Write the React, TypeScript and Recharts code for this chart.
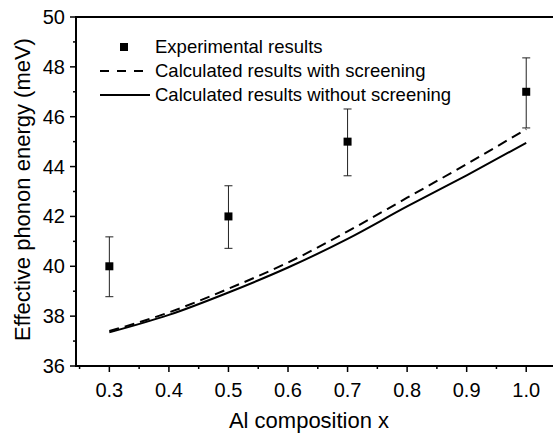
import React from 'react';
import { ComposedChart, Line, Scatter, ErrorBar, XAxis, YAxis, Legend, Label } from 'recharts';

// Al composition x for the calculated curves
const xCalc = [0.3, 0.4, 0.5, 0.6, 0.7, 0.8, 0.9, 1.0];
const withScreening = [37.4, 38.15, 39.1, 40.15, 41.4, 42.75, 44.1, 45.5];
const withoutScreening = [37.35, 38.05, 38.95, 39.95, 41.1, 42.4, 43.65, 44.95];

// experimental points with error bars (lower, upper)
const xExp = [0.3, 0.5, 0.7, 1.0];
const expValues = [40, 42, 45, 47];
const expErrLow = [1.22, 1.28, 1.37, 1.45];
const expErrHigh = [1.18, 1.23, 1.31, 1.36];

const xDomain = [0.244, 1.05];
const yDomain = [36, 50];
const xTicks = [0.25, 0.3, 0.35, 0.4, 0.45, 0.5, 0.55, 0.6, 0.65, 0.7, 0.75, 0.8, 0.85, 0.9, 0.95, 1.0];
const xMajorTicks = [0.3, 0.4, 0.5, 0.6, 0.7, 0.8, 0.9, 1.0];
const yTicks = [36, 37, 38, 39, 40, 41, 42, 43, 44, 45, 46, 47, 48, 49, 50];
const yMajorTicks = [36, 38, 40, 42, 44, 46, 48, 50];

const legendItems = [
  { name: 'Experimental results', kind: 'square' },
  { name: 'Calculated results with screening', kind: 'dashed' },
  { name: 'Calculated results without screening', kind: 'solid' },
];

const FONT = '"Liberation Sans", Arial, Helvetica, sans-serif';

const MARGIN = { top: 17, right: 4, bottom: 38, left: 0 };
const CHART_W = 560;
const CHART_H = 434;
const Y_AXIS_W = 76;
const X_AXIS_H = 30;

const screenedData = xCalc.map((x, i) => ({ x, y: withScreening[i] }));
const unscreenedData = xCalc.map((x, i) => ({ x, y: withoutScreening[i] }));
const expData = xExp.map((x, i) => ({ x, y: expValues[i], err: [expErrLow[i], expErrHigh[i]] }));

const XTick = ({ x, y, payload }: any) => {
  const major = xMajorTicks.includes(payload.value);
  return (
    <g>
      <rect x={x - 0.75} y={y} width={1.5} height={major ? 6 : 3} fill="#000" />
      {major && (
        <text x={x} y={y + 31} textAnchor="middle" fontSize={20} fontFamily={FONT} fill="#000">
          {payload.value.toFixed(1)}
        </text>
      )}
    </g>
  );
};

const YTick = ({ x, y, payload }: any) => {
  const major = yMajorTicks.includes(payload.value);
  const len = major ? 6 : 3;
  return (
    <g>
      <rect x={x - len} y={y - 0.75} width={len} height={1.5} fill="#000" />
      {major && (
        <text x={x - 11} y={y + 7} textAnchor="end" fontSize={20} fontFamily={FONT} fill="#000">
          {payload.value}
        </text>
      )}
    </g>
  );
};

const YTitle = ({ viewBox }: any) => {
  const cx = viewBox.x + 22;
  const cy = viewBox.y + viewBox.height / 2 - 2;
  return (
    <text x={cx} y={cy} transform={`rotate(-90 ${cx} ${cy})`} textAnchor="middle" dominantBaseline="central"
      fontSize={22} fontFamily={FONT} fill="#000">
      Effective phonon energy (meV)
    </text>
  );
};

const XTitle = ({ viewBox }: any) => (
  <text x={viewBox.x + viewBox.width / 2 - 7} y={viewBox.y + 54} textAnchor="middle" dominantBaseline="central"
    fontSize={22} fontFamily={FONT} fill="#000">
    Al composition x
  </text>
);

const LegendBox = () => (
  <div style={{ fontFamily: FONT, fontSize: 18.5, color: '#000' }}>
    {legendItems.map((item) => (
      <div key={item.name} style={{ display: 'flex', alignItems: 'center', height: 24 }}>
        <svg width={50} height={24} style={{ marginRight: 5 }}>
          {item.kind === 'square' && <rect x={20} y={8} width={8} height={8} fill="#000" />}
          {item.kind === 'dashed' && <line x1={0} y1={12} x2={44} y2={12} stroke="#000" strokeWidth={2} strokeDasharray="9 8" />}
          {item.kind === 'solid' && <line x1={0} y1={12} x2={50} y2={12} stroke="#000" strokeWidth={2} />}
        </svg>
        <span style={{ whiteSpace: 'nowrap' }}>{item.name}</span>
      </div>
    ))}
  </div>
);

// plot frame (top, left, bottom) laid over the chart, sized from the same margins as the chart
const plotLeft = MARGIN.left + Y_AXIS_W;
const plotTop = MARGIN.top;
const plotHeight = CHART_H - MARGIN.top - MARGIN.bottom - X_AXIS_H;
const plotWidth = CHART_W - plotLeft - MARGIN.right;

export default function App() {
  return (
    <div style={{ position: 'absolute', left: 0, top: 0, width: 553, height: 434, overflow: 'hidden', background: '#fff' }}>
      <ComposedChart width={CHART_W} height={CHART_H} margin={MARGIN}>
        <XAxis dataKey="x" type="number" domain={xDomain} ticks={xTicks} interval={0} height={X_AXIS_H}
          tickSize={0} tickMargin={0} tickLine={false} tick={<XTick />} axisLine={false}>
          <Label content={<XTitle />} />
        </XAxis>
        <YAxis type="number" domain={yDomain} ticks={yTicks} interval={0} width={Y_AXIS_W}
          tickSize={0} tickMargin={0} tickLine={false} tick={<YTick />} axisLine={false}>
          <Label content={<YTitle />} />
        </YAxis>
        <Legend layout="vertical" verticalAlign="middle" align="center" content={<LegendBox />}
          wrapperStyle={{ left: 100, top: 35, width: 420, height: 72 }} />
        <Line data={screenedData} dataKey="y" name="Calculated results with screening" type="monotone"
          stroke="#000" strokeWidth={2} strokeDasharray="10 6" dot={false} isAnimationActive={false} />
        <Line data={unscreenedData} dataKey="y" name="Calculated results without screening" type="monotone"
          stroke="#000" strokeWidth={2} dot={false} isAnimationActive={false} />
        <Scatter data={expData} dataKey="y" name="Experimental results" isAnimationActive={false}
          shape={(p: any) => <rect x={p.cx - 4} y={p.cy - 4} width={8} height={8} fill="#000" />}>
          <ErrorBar dataKey="err" direction="y" width={4} stroke="#222" strokeWidth={1} isAnimationActive={false} />
        </Scatter>
      </ComposedChart>
      <div style={{
        position: 'absolute', pointerEvents: 'none', boxSizing: 'border-box',
        left: plotLeft - 1, top: plotTop - 1, width: plotWidth + 2, height: plotHeight + 2,
        borderTop: '2.5px solid #000', borderLeft: '2px solid #000', borderBottom: '2px solid #000',
      }} />
    </div>
  );
}
